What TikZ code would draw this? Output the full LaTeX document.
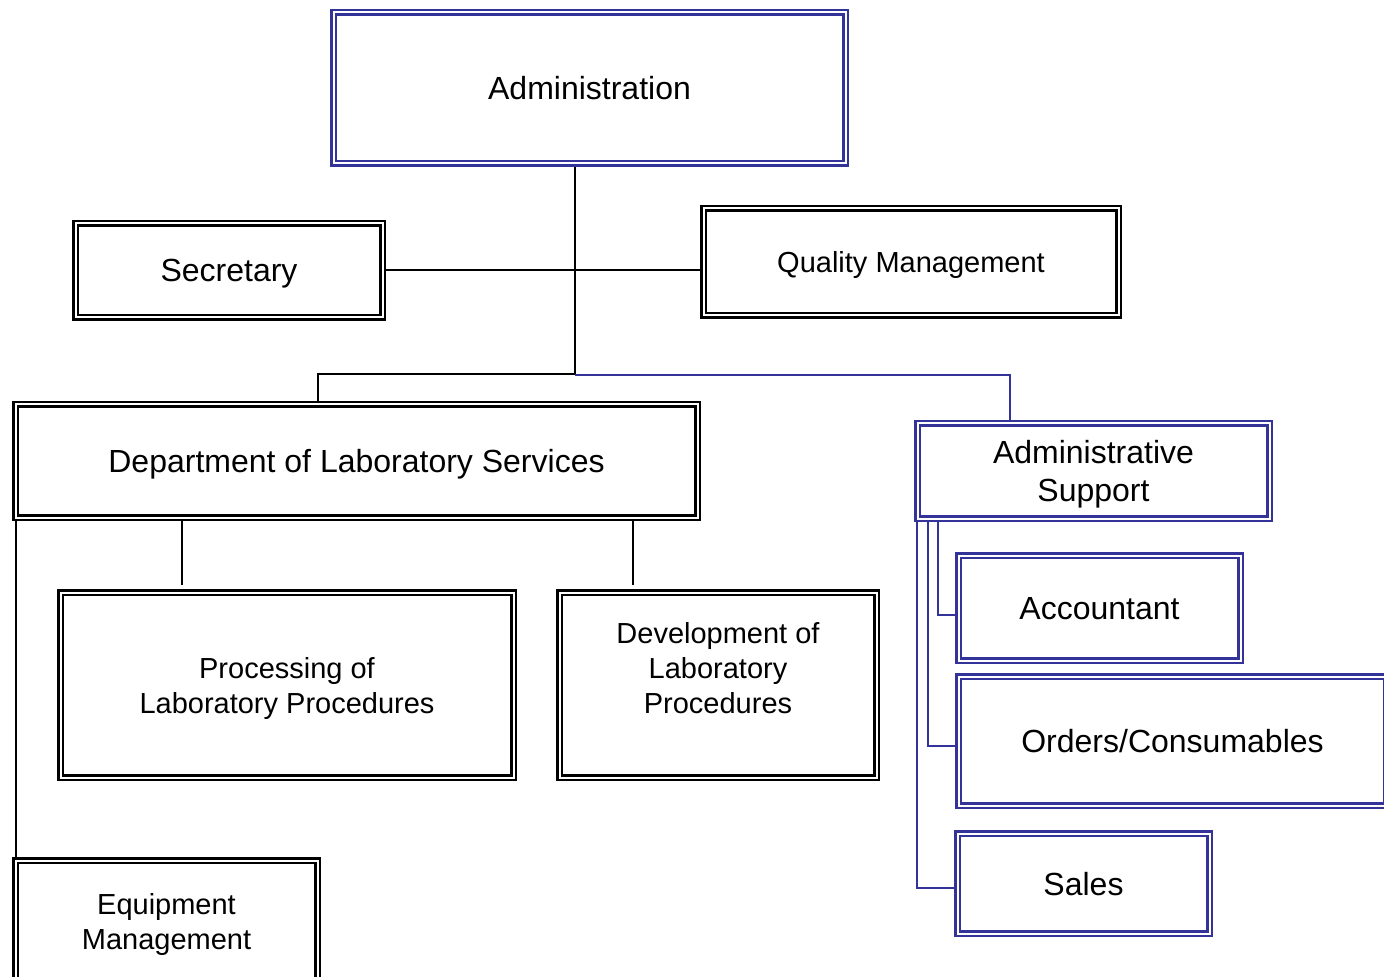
\documentclass[tikz,border=0pt]{standalone}
\usepackage{fontspec}
\setmainfont{Liberation Sans}
\usepackage{tikz}
\usepackage{color}
\definecolor{orgblue}{HTML}{333399}

\begin{document}
\begin{tikzpicture}
    [ x=0.5pt, y=-0.5pt
    , box/.style={draw, double, line width=1.2pt, double distance=1pt,
        outer sep=1.7pt, inner sep=0pt, align=center, text depth=0pt,
        font=\fontsize{16}{19}\selectfont}
    , bluebox/.style={box, draw=orgblue}
    , small/.style={font=\fontsize{14.5}{17.5}\selectfont}
    , link/.style={line width=1pt}
    , bluelink/.style={link, draw=orgblue}
    ]
\useasboundingbox (0,0) rectangle (1384,977);
% top of the chart
\node[bluebox, minimum width=256pt, minimum height=75.5pt] (admin) at (589.5,88) {Administration};
\node[box, minimum width=153.5pt, minimum height=47pt] (sec) at (229,270.5) {Secretary};
\node[box, small, minimum width=207.5pt, minimum height=53.5pt] (qm) at (911,262) {Quality Management};
% departments
\node[box, minimum width=341pt, minimum height=56.5pt] (dls) at (356.5,461) {Department of Laboratory Services};
\node[bluebox, minimum width=176pt, minimum height=47.5pt] (adsup) at (1093.5,471) {Administrative\\Support};
\node[box, small, minimum width=226.5pt, minimum height=92.5pt] (proc) at (287,685) {Processing of\\Laboratory Procedures};
\node[box, small, minimum width=158.5pt, minimum height=92.5pt] (dev) at (718,685) {Development of\\Laboratory\\Procedures\\\mbox{}};
\node[box, small, minimum width=151pt, minimum height=60.5pt] (equip) at (166.5,921) {Equipment\\Management};
\node[bluebox, minimum width=141pt, minimum height=52.5pt] (acc) at (1099.5,608) {Accountant};
\node[bluebox, minimum width=214pt, minimum height=64.5pt] (orders) at (1172.5,741) {Orders/Consumables};
\node[bluebox, minimum width=126pt, minimum height=50pt] (sales) at (1083.5,883.5) {Sales};

% connectors
\coordinate (j1) at (575,374);
\coordinate (dlsin) at (318,374);
\coordinate (asin) at (1010,375);
\draw[link] (admin.south -| j1) -- (j1) -- (dlsin) -- (dlsin |- dls.north);
\draw[link] (sec.east) -- (sec.east -| qm.west);
\draw[bluelink] (j1 |- asin) -- (asin) -- (asin |- adsup.north);
\coordinate (p1) at (182,585);
\coordinate (d1) at (633,585);
\coordinate (e1) at (16,600);
\draw[link] (dls.south -| p1) -- (p1);
\draw[link] (dls.south -| d1) -- (d1);
\draw[link] (dls.south -| e1) -- (equip.north -| e1);
\coordinate (a1) at (938,615);
\coordinate (o1) at (928,746);
\coordinate (s1) at (917,888);
\draw[bluelink] (adsup.south -| a1) -- (a1) -- (a1 -| acc.west);
\draw[bluelink] (adsup.south -| o1) -- (o1) -- (o1 -| orders.west);
\draw[bluelink] (adsup.south -| s1) -- (s1) -- (s1 -| sales.west);
\end{tikzpicture}
\end{document}
